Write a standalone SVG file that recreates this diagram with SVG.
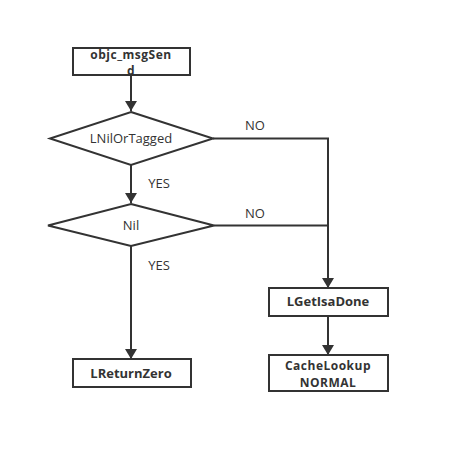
<svg xmlns="http://www.w3.org/2000/svg" width="449" height="453" viewBox="0 0 449 453">
<style>
.box{fill:#fff;stroke:#333;stroke-width:2}
.ln{fill:none;stroke:#333;stroke-width:2}
.t{font-family:"Open Sans","Noto Sans",sans-serif;font-size:13px;fill:#333;text-anchor:middle}
.b{font-weight:bold}
.s{font-size:12px;letter-spacing:0.5px}
</style>
<defs>
<marker id="ah" markerWidth="10" markerHeight="16" refX="10" refY="8" orient="auto" markerUnits="userSpaceOnUse">
<path d="M0,2 L10,8 L0,14 Z" fill="#333"/>
</marker>
</defs>
<rect width="449" height="453" fill="#fff"/>
<g id="connectors">
<line class="ln" x1="131" y1="75" x2="131" y2="111" marker-end="url(#ah)"/>
<line class="ln" x1="131" y1="165" x2="131" y2="203" marker-end="url(#ah)"/>
<line class="ln" x1="131" y1="246" x2="131" y2="359" marker-end="url(#ah)"/>
<polyline class="ln" points="213,138.5 328,138.5 328,288" marker-end="url(#ah)"/>
<line class="ln" x1="214" y1="225.5" x2="328" y2="225.5"/>
<line class="ln" x1="328" y1="316" x2="328" y2="355" marker-end="url(#ah)"/>
<text class="t" x="255" y="130">NO</text>
<text class="t" x="159" y="188">YES</text>
<text class="t" x="255" y="218">NO</text>
<text class="t" x="159" y="270">YES</text>
</g>
<g id="objc_msgSend">
<rect class="box" x="73" y="48" width="117" height="27"/>
<text class="t b s" x="131" y="58.5">objc_msgSen</text>
<text class="t b s" x="131" y="75">d</text>
</g>
<g id="LNilOrTagged">
<polygon class="box" points="131,112 213,138.5 131,165 50,138.5"/>
<text class="t" x="131" y="143">LNilOrTagged</text>
</g>
<g id="Nil">
<polygon class="box" points="131,204 214,225.5 131,246 48,225.5"/>
<text class="t" x="131" y="230">Nil</text>
</g>
<g id="LGetIsaDone">
<rect class="box" x="269" y="288" width="119" height="28"/>
<text class="t b" x="328" y="306">LGetIsaDone</text>
</g>
<g id="CacheLookup">
<rect class="box" x="269" y="355" width="119" height="36"/>
<text class="t b s" x="328" y="369.5">CacheLookup</text>
<text class="t b s" x="328" y="386.5">NORMAL</text>
</g>
<g id="LReturnZero">
<rect class="box" x="73" y="359" width="118" height="28"/>
<text class="t b" x="131" y="378">LReturnZero</text>
</g>
</svg>
